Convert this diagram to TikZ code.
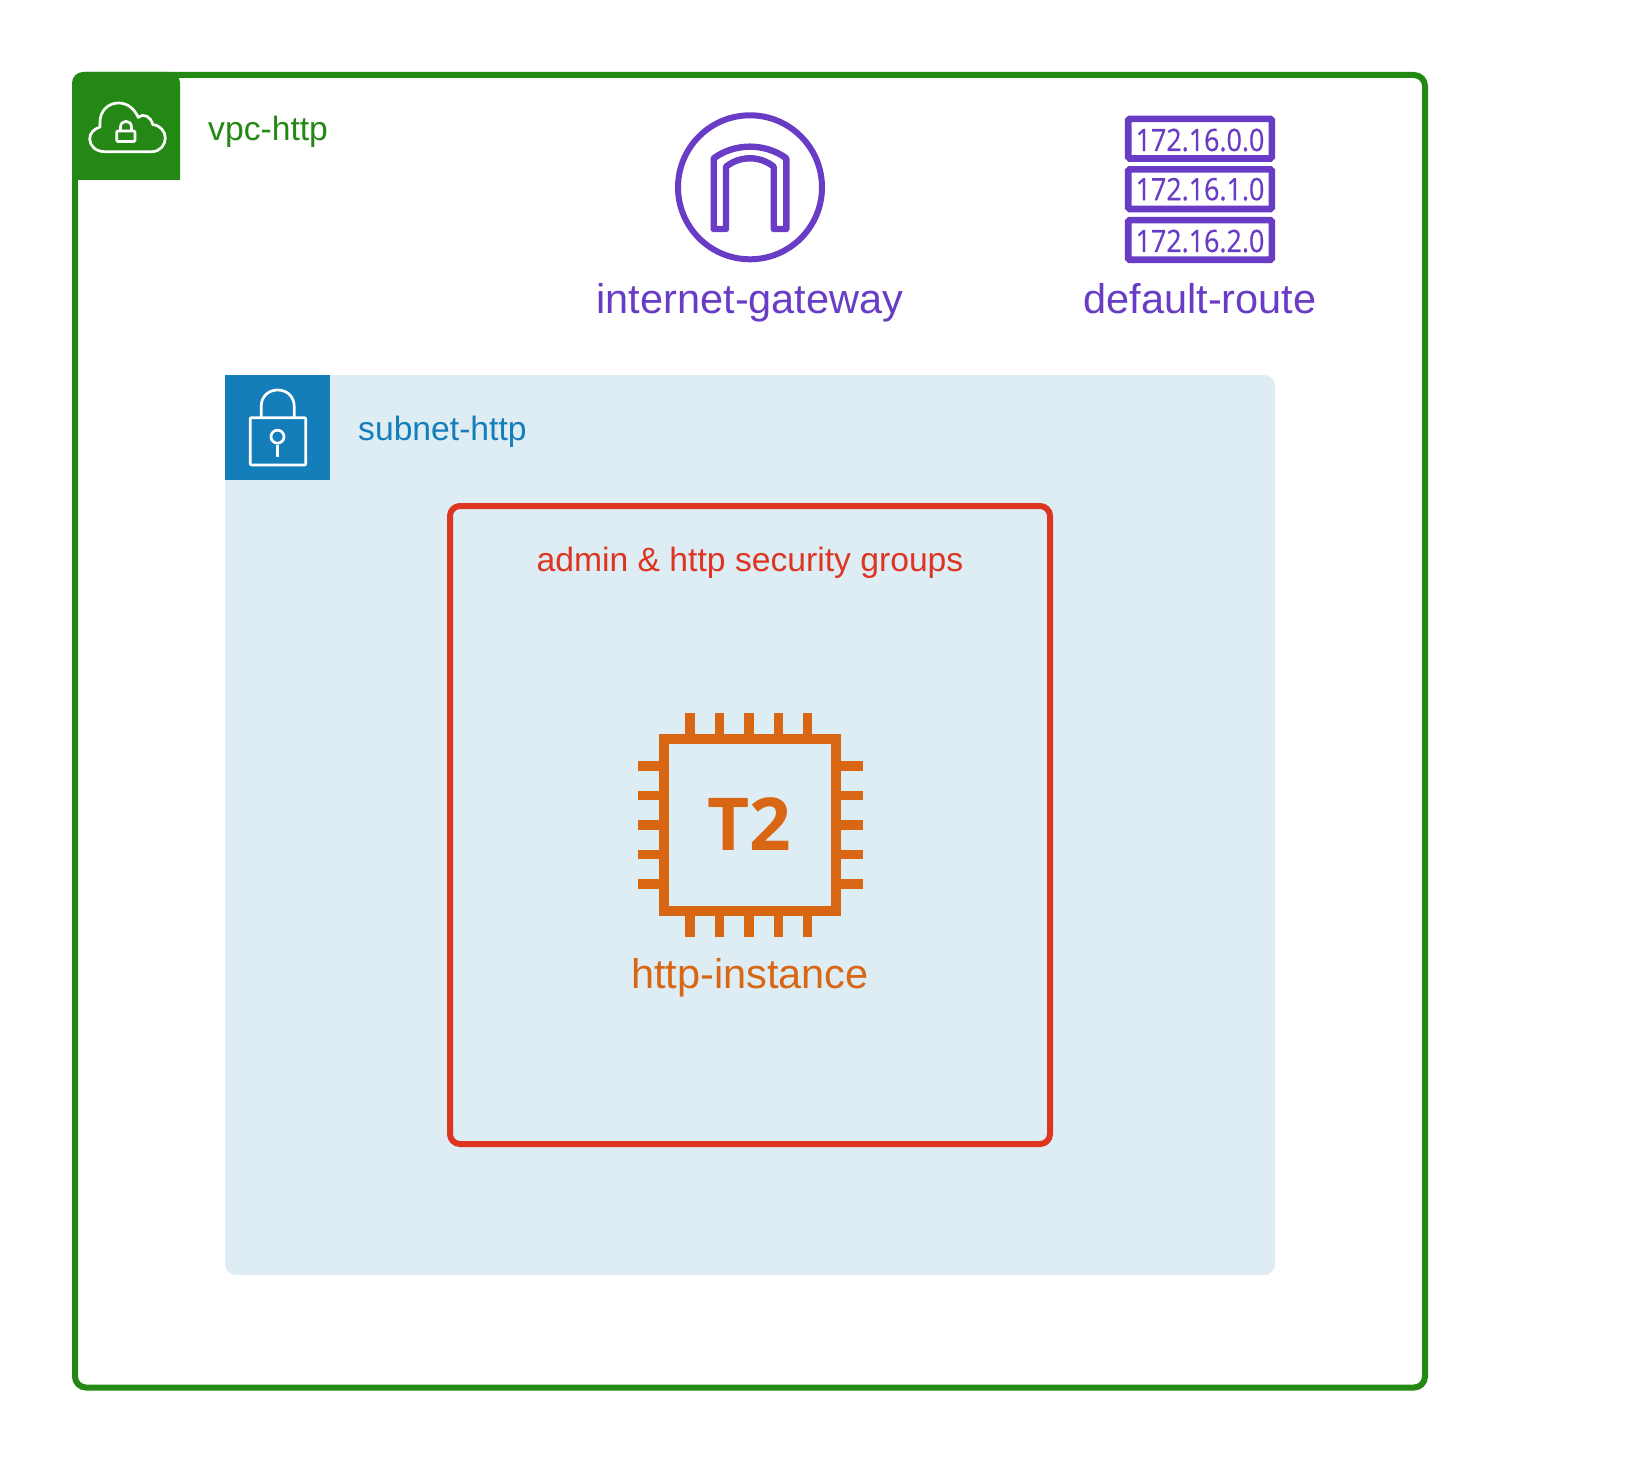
\documentclass[tikz,border=0pt]{standalone}
\usepackage{fontspec}
\setmainfont{Liberation Sans}
\newfontfamily\chipfont{Open Sans}
\newfontfamily\ipfont[FakeStretch=0.87,FakeBold=0.5]{Open Sans}

\definecolor{vpcgreen}{HTML}{248814}
\definecolor{subnetblue}{HTML}{147EBA}
\definecolor{subnetfill}{HTML}{DEEDF4}
\definecolor{sgred}{HTML}{DD3522}
\definecolor{netpurple}{HTML}{693CC5}
\definecolor{ec2orange}{HTML}{D86613}

\begin{document}
\begin{tikzpicture}[x=1pt,y=-1pt]

\tikzset{
  GroupLabel/.style = { anchor = base, inner sep = 0pt,
                       font = \fontsize{33.67}{40}\selectfont },
  IconLabel/.style = { anchor = base, inner sep = 0pt,
                       font = \fontsize{41.5}{50}\selectfont },
  IpLabel/.style = { anchor = base, inner sep = 0pt, netpurple,
                       font = \ipfont\fontsize{30.8}{36}\selectfont },
  IpBox/.style = { draw = netpurple, line width = 6.6pt, rounded corners = 1.5pt,
                       minimum width = 143.6pt, minimum height = 39.6pt },
  IconLine/.style = { draw = white, line width = 2.7pt, line join = round },
  ChipPin/.style = { draw = ec2orange, line width = 9.4pt } }

  \useasboundingbox (0, 0) rectangle (1635, 1463);

  \node[draw=vpcgreen,line width=6pt,rounded corners=11pt,minimum width=1350pt,minimum height=1312.5pt] (vpc) at (750, 731.25) {};
  \node[fill=subnetfill,rounded corners=11pt,minimum width=1050pt,minimum height=900pt] (subnet) at (750, 825) {};
  \node[draw=sgred,line width=6pt,rounded corners=10pt,minimum width=600pt,minimum height=638pt] (sg) at (750, 825) {};

  \fill[vpcgreen,rounded corners=11pt] (72, 180) -- (72, 72) -- (180, 72) [sharp corners] -- (180, 180) -- cycle;
  \node[fill=subnetblue,minimum size=105pt] (subnethead) at (277.5, 427.5) {};

  % cloud with lock
  \draw[IconLine] (105, 151.7) -- (151.7, 151.7)
    .. controls (160, 151.7) and (165.3, 145) .. (165.3, 138)
    .. controls (165.3, 131) and (160, 125.5) .. (152.7, 124.5)
    .. controls (151, 117) and (144, 112.5) .. (138.3, 117.5)
    .. controls (134, 108) and (127, 103) .. (118.5, 103)
    .. controls (108, 103) and (100, 111) .. (100, 122)
    -- (100, 127)
    .. controls (94, 129) and (89.7, 133) .. (89.7, 139)
    .. controls (89.7, 146) and (96, 151.7) .. (105, 151.7) -- cycle;
  \draw[IconLine,rounded corners=1pt] (116.7, 131) rectangle (135, 141.5);
  \draw[IconLine] (120.5, 131) -- (120.5, 127) .. controls (120.5, 119.5) and (131.5, 119.5) .. (131.5, 127) -- (131.5, 131);

  % padlock
  \draw[IconLine,rounded corners=1pt] (250.2, 417.7) rectangle (305.7, 465);
  \draw[IconLine] (261.2, 417.7) -- (261.2, 406.5) .. controls (261.2, 384.5) and (294.2, 384.5) .. (294.2, 406.5) -- (294.2, 417.7);
  \node[draw=white,line width=2.7pt,circle,minimum size=13pt,inner sep=0pt] (keyhole) at (277.5, 436.7) {};
  \draw[IconLine] (keyhole.south) -- (277.5, 456.7);

  \node[GroupLabel,anchor=base west,vpcgreen] (vpclabel) at (208, 141) {vpc-http};
  \node[GroupLabel,anchor=base west,subnetblue] (subnetlabel) at (358, 440) {subnet-http};
  \node[GroupLabel,sgred] (sglabel) at (750, 571.3) {admin \& http security groups};

  % gateway
  \node[draw=netpurple,line width=6pt,circle,minimum size=144pt,inner sep=0pt] (gateway) at (750, 187.3) {};
  \draw[draw=netpurple,line width=6.4pt,line join=round] (713.7, 229) -- (713.7, 158.3)
    .. controls (735, 142.8) and (765, 142.8) .. (786.3, 158.3) -- (786.3, 229) -- (773.7, 229)
    -- (773.7, 166.7) .. controls (760, 155.5) and (740, 155.5) .. (726, 166.7) -- (726, 229) -- cycle;
  \node[IconLabel,netpurple] (gatewaylabel) at (750, 313) {internet-gateway};

  % route table
  \node[IpBox] (route0) at (1200, 138.7) {};
  \node[IpBox] (route1) at (1200, 189.2) {};
  \node[IpBox] (route2) at (1200, 240) {};
  \node[IpLabel] (ip0) at (1200, 151) {172.16.0.0};
  \node[IpLabel] (ip1) at (1200, 200.2) {172.16.1.0};
  \node[IpLabel] (ip2) at (1200, 252) {172.16.2.0};
  \node[IconLabel,netpurple] (routelabel) at (1200, 313) {default-route};

  % instance
  \foreach \px in {690, 719.4, 748.8, 778.2, 807.6} {
    \draw[ChipPin] (\px, 712.7) -- (\px, 734);
    \draw[ChipPin] (\px, 916) -- (\px, 937.3);
  }
  \foreach \py in {766, 795.5, 825, 854.4, 883.8} {
    \draw[ChipPin] (638.3, \py) -- (660, \py);
    \draw[ChipPin] (840, \py) -- (862.7, \py);
  }
  \node[draw=ec2orange,line width=9.6pt,minimum size=172pt] (chip) at (750, 825) {};
  \node[anchor=base,inner sep=0pt,ec2orange,font=\chipfont\bfseries\fontsize{73}{80}\selectfont] (chiptype) at (749.5, 850) {T2};
  \node[IconLabel,ec2orange] (chiplabel) at (750, 988) {http-instance};

\end{tikzpicture}
\end{document}
